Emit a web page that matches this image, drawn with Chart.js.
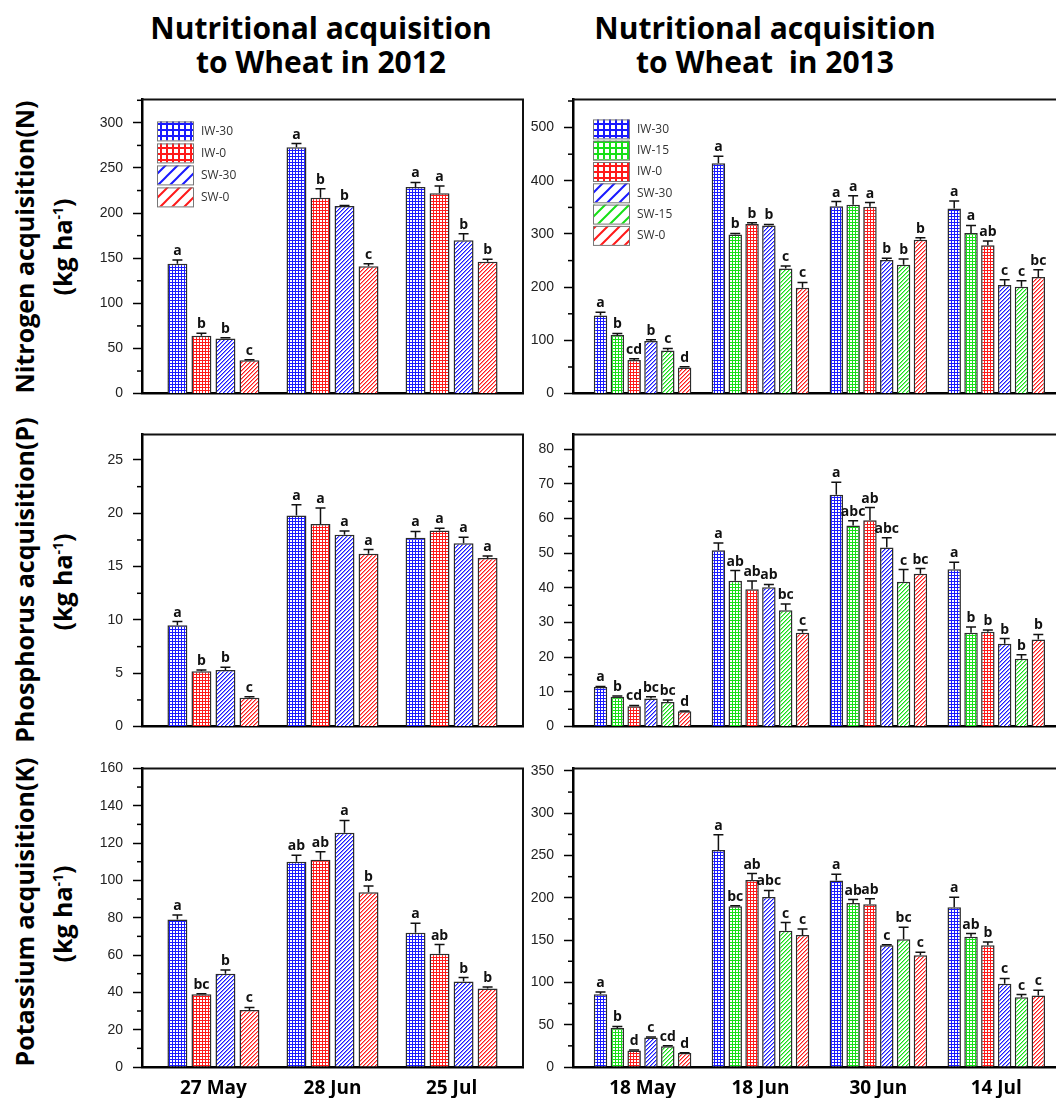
<!DOCTYPE html>
<html>
<head>
<meta charset="utf-8">
<script src="https://cdn.jsdelivr.net/npm/chart.js@4.4.1/dist/chart.umd.min.js"></script>
<style>
html, body { margin: 0; padding: 0; width: 1056px; height: 1098px; overflow: hidden; background: #fff; }
canvas { position: absolute; }
.title { position: absolute; transform: translateX(-50%); text-align: center; font: bold 30px "Open Sans"; line-height: 34px; color: #000; white-space: nowrap; }
.ytitle { position: absolute; transform: translate(-50%, -50%) rotate(-90deg); font: bold 25px "Open Sans"; color: #000; white-space: nowrap; }
.ytitle sup { font-size: 14px; }
</style>
</head>
<body>
<div class="title" style="left:321px;top:11px">Nutritional acquisition<br>to Wheat in 2012</div>
<div class="title" style="left:765px;top:11px">Nutritional acquisition<br>to Wheat&nbsp; in 2013</div>

<div class="ytitle" style="left:24px;top:247px">Nitrogen acquisition(N)</div>
<div class="ytitle" style="left:62px;top:247px">(kg ha<sup>-1</sup>)</div>
<div class="ytitle" style="left:24px;top:580px">Phosphorus acquisition(P)</div>
<div class="ytitle" style="left:62px;top:582px">(kg ha<sup>-1</sup>)</div>
<div class="ytitle" style="left:24px;top:912px">Potassium acquisition(K)</div>
<div class="ytitle" style="left:62px;top:914px">(kg ha<sup>-1</sup>)</div>

<canvas id="n2012" width="447" height="331" style="left:82px;top:81px"></canvas>
<canvas id="n2013" width="560" height="331" style="left:513px;top:81px"></canvas>
<canvas id="p2012" width="447" height="329" style="left:82px;top:416px"></canvas>
<canvas id="p2013" width="560" height="329" style="left:513px;top:416px"></canvas>
<canvas id="k2012" width="447" height="357" style="left:82px;top:750px"></canvas>
<canvas id="k2013" width="560" height="357" style="left:513px;top:750px"></canvas>

<script>
// sampling dates and treatments
const dates2012 = ['27 May', '28 Jun', '25 Jul'];
const dates2013 = ['18 May', '18 Jun', '30 Jun', '14 Jul'];
const treat2012 = ['IW-30', 'IW-0', 'SW-30', 'SW-0'];
const treat2013 = ['IW-30', 'IW-15', 'IW-0', 'SW-30', 'SW-15', 'SW-0'];

// rows = treatment, columns = date
const n2012 = [[144, 273, 229], [64, 217, 222], [61, 208, 170], [37, 141, 146]];
const n2012Err = [[4, 4, 5], [3, 10, 8], [1, 0.5, 7], [0.5, 3, 3]];
const n2012Sig = [['a', 'a', 'a'], ['b', 'b', 'a'], ['b', 'b', 'b'], ['c', 'c', 'b']];

const n2013 = [[147, 433, 352, 348], [110, 299, 355, 302], [63, 319, 351, 279],
               [99, 316, 251, 204], [81, 235, 242, 201], [49, 199, 289, 219]];
const n2013Err = [[6, 13, 9, 14], [3, 2, 17, 14], [2.5, 2, 8, 8],
                  [2, 2, 3.5, 10], [4, 5, 11, 11], [1.5, 10, 4, 14]];
const n2013Sig = [['a', 'a', 'a', 'a'], ['b', 'b', 'a', 'a'], ['cd', 'b', 'a', 'ab'],
                  ['b', 'b', 'b', 'c'], ['c', 'c', 'b', 'c'], ['d', 'c', 'b', 'bc']];

const p2012 = [[9.5, 19.8, 17.7], [5.2, 19.0, 18.4], [5.3, 18.0, 17.2], [2.7, 16.2, 15.8]];
const p2012Err = [[0.35, 1.0, 0.6], [0.1, 1.5, 0.2], [0.27, 0.35, 0.55], [0.1, 0.4, 0.2]];
const p2012Sig = [['a', 'a', 'a'], ['b', 'a', 'a'], ['b', 'a', 'a'], ['c', 'a', 'a']];

const p2013 = [[11.4, 50.9, 66.9, 45.4], [8.6, 42.1, 58.0, 27.1], [5.9, 39.6, 59.5, 27.4],
               [8.1, 40.2, 51.7, 23.9], [7.1, 33.6, 41.8, 19.6], [4.4, 27.1, 44.1, 25.1]];
const p2013Err = [[0.2, 2.1, 3.6, 2.0], [0.2, 2.9, 1.4, 1.6], [0.2, 2.4, 3.7, 0.5],
                  [0.5, 0.8, 2.8, 1.5], [0.6, 1.8, 3.5, 1.1], [0.1, 0.8, 1.5, 1.5]];
const p2013Sig = [['a', 'a', 'a', 'a'], ['b', 'ab', 'abc', 'b'], ['cd', 'ab', 'ab', 'b'],
                  ['bc', 'ab', 'abc', 'b'], ['bc', 'bc', 'c', 'b'], ['d', 'c', 'bc', 'b']];

const k2012 = [[79, 110, 72], [39, 111, 60.7], [50, 125.5, 45.8], [30.5, 93.7, 42.1]];
const k2012Err = [[2.5, 3.5, 5], [0.3, 4.4, 4.9], [2, 6.6, 2.1], [1.4, 3.3, 0.8]];
const k2012Sig = [['a', 'ab', 'a'], ['bc', 'ab', 'ab'], ['b', 'a', 'b'], ['c', 'b', 'b']];

const k2013 = [[86, 256.5, 220.5, 189], [46, 190, 194, 154], [19.5, 221, 192.5, 144],
               [35, 201, 144, 98.5], [24.5, 161, 151, 82.6], [16.5, 156, 132, 84.5]];
const k2013Err = [[2.6, 18, 7.5, 11.6], [2, 0.7, 4, 3.8], [0.5, 7.7, 6.4, 3.9],
                  [0.5, 7.7, 0.5, 6.2], [0.5, 9.7, 14.3, 3.1], [0.3, 7, 3.8, 6.2]];
const k2013Sig = [['a', 'a', 'a', 'a'], ['b', 'bc', 'ab', 'ab'], ['d', 'ab', 'ab', 'b'],
                  ['c', 'abc', 'c', 'c'], ['cd', 'c', 'bc', 'c'], ['d', 'c', 'c', 'c']];

// colour by water level, fill style by irrigation type
function colorFor(name) {
  if (name.endsWith('-30')) return '#1a1aff';
  if (name.endsWith('-15')) return '#16e016';
  return '#ff1a1a';
}

function makePattern(name, big) {
  const c = document.createElement('canvas');
  const g = c.getContext('2d');
  const col = colorFor(name);
  if (name.startsWith('IW')) {
    const cell = big ? 6 : 3, lw = big ? 2 : 1;
    c.width = c.height = cell;
    g.fillStyle = '#fff';
    g.fillRect(0, 0, cell, cell);
    g.fillStyle = col;
    g.fillRect(0, 0, cell, lw);
    g.fillRect(0, 0, lw, cell);
  } else if (big) {
    const s = 12;
    c.width = c.height = s;
    g.fillStyle = '#fff';
    g.fillRect(0, 0, s, s);
    g.strokeStyle = col;
    g.lineWidth = 2;
    g.beginPath();
    g.moveTo(-1, 1); g.lineTo(1, -1);
    g.moveTo(0, s); g.lineTo(s, 0);
    g.moveTo(s - 1, s + 1); g.lineTo(s + 1, s - 1);
    g.stroke();
  } else {
    // crisp pixel staircase "/" hatch
    const s = 4;
    c.width = c.height = s;
    g.fillStyle = '#fff';
    g.fillRect(0, 0, s, s);
    g.fillStyle = col;
    for (let x = 0; x < s; x++) {
      for (let y = 0; y < s; y++) {
        const k = (x + y) % s;
        if (k === 0 || k === 1) {
          g.globalAlpha = k === 0 ? 1 : 0.5;
          g.fillRect(x, y, 1, 1);
        }
      }
    }
    g.globalAlpha = 1;
  }
  return g.createPattern(c, 'repeat');
}

function makePanel(id, p) {
  const isMajor = v => Math.abs(v / p.major - Math.round(v / p.major)) < 1e-6;

  const datasets = p.treat.map((name, k) => ({
    label: name,
    data: p.dates.map((d, j) => ({ x: j + 1, y: p.values[k][j] })),
    errors: p.errors[k],
    letters: p.letters[k],
    backgroundColor: makePattern(name, false),
    borderColor: '#2b2b2b',
    borderWidth: 1.5,
    categoryPercentage: p.catPct,
    barPercentage: p.barPct
  }));

  const extras = {
    id: 'extras',
    afterDatasetsDraw(chart) {
      const ctx = chart.ctx;
      const yS = chart.scales.y;
      ctx.save();
      chart.data.datasets.forEach((ds, i) => {
        chart.getDatasetMeta(i).data.forEach((bar, j) => {
          const top = yS.getPixelForValue(ds.data[j].y + ds.errors[j]);
          ctx.strokeStyle = '#111';
          ctx.lineWidth = 1.5;
          ctx.beginPath();
          ctx.moveTo(bar.x, bar.y);
          ctx.lineTo(bar.x, top);
          ctx.moveTo(bar.x - 5, top);
          ctx.lineTo(bar.x + 5, top);
          ctx.stroke();
          ctx.fillStyle = '#111';
          ctx.font = 'bold 14px "Open Sans"';
          ctx.textAlign = 'center';
          ctx.textBaseline = 'alphabetic';
          ctx.fillText(ds.letters[j], bar.x, top - 5);
        });
      });
      ctx.restore();
    },
    afterDraw(chart) {
      const ctx = chart.ctx;
      const a = chart.chartArea;
      const yS = chart.scales.y;
      ctx.save();
      // frame
      ctx.strokeStyle = '#111';
      ctx.lineWidth = 2;
      ctx.beginPath();
      ctx.moveTo(a.left, a.top);
      ctx.lineTo(a.right, a.top);
      ctx.lineTo(a.right, a.bottom);
      ctx.stroke();
      // minor ticks
      ctx.lineWidth = 1.5;
      ctx.strokeStyle = '#000';
      yS.ticks.forEach(t => {
        if (isMajor(t.value)) return;
        const y = yS.getPixelForValue(t.value);
        ctx.beginPath();
        ctx.moveTo(a.left - 5, y);
        ctx.lineTo(a.left, y);
        ctx.stroke();
      });
      // legend
      if (p.legend) {
        const lg = p.legend;
        p.treat.forEach((name, k) => {
          const x = a.left + lg.dx, y = a.top + lg.dy + k * lg.pitch;
          ctx.fillStyle = makePattern(name, true);
          ctx.fillRect(x, y, 36, 19);
          ctx.strokeStyle = '#777';
          ctx.lineWidth = 1;
          ctx.strokeRect(x + 0.5, y + 0.5, 36, 19);
          ctx.fillStyle = '#333';
          ctx.font = '12px "Open Sans"';
          ctx.textAlign = 'left';
          ctx.textBaseline = 'middle';
          ctx.fillText(name, x + 44, y + 10);
        });
      }
      ctx.restore();
    }
  };

  return new Chart(document.getElementById(id), {
    type: 'bar',
    data: { datasets: datasets },
    options: {
      responsive: false,
      animation: false,
      devicePixelRatio: 1,
      layout: { padding: { top: 12, right: 6, left: 0, bottom: 0 } },
      plugins: { legend: { display: false }, tooltip: { enabled: false } },
      scales: {
        x: {
          type: 'linear',
          offset: false,
          min: p.xMin,
          max: p.xMax,
          afterFit: s => { s.height = p.showX ? 40 : 12; },
          afterBuildTicks: s => { s.ticks = p.dates.map((d, i) => ({ value: i + 1 })); },
          grid: { display: false, drawTicks: false, offset: false },
          border: { color: '#000', width: 2.5 },
          ticks: {
            display: p.showX,
            autoSkip: false,
            maxRotation: 0,
            padding: 10,
            color: '#000',
            font: { family: 'Open Sans', size: 19, weight: 'bold' },
            callback: (v, i) => p.dates[i]
          }
        },
        y: {
          min: 0,
          max: p.yMax,
          afterFit: s => { s.width = 60; },
          border: { color: '#000', width: 2.5 },
          grid: {
            drawOnChartArea: false,
            tickLength: 9,
            tickWidth: 1.5,
            tickColor: c => (c.tick && isMajor(c.tick.value)) ? '#000' : 'rgba(0,0,0,0)'
          },
          ticks: {
            stepSize: p.minor,
            autoSkip: false,
            includeBounds: false,
            padding: 10,
            color: '#222',
            font: { family: 'Liberation Sans', size: 14 },
            callback: v => isMajor(v) ? v : ''
          }
        }
      }
    },
    plugins: [extras]
  });
}

const left = { dates: dates2012, treat: treat2012, xMin: 0.4, xMax: 3.6, catPct: 0.807, barPct: 0.83 };
const right = { dates: dates2013, treat: treat2013, xMin: 0.41, xMax: 4.6, catPct: 0.856, barPct: 0.8 };

makePanel('n2012', Object.assign({}, left, {
  values: n2012, errors: n2012Err, letters: n2012Sig,
  yMax: 326, major: 50, minor: 25, showX: false,
  legend: { dx: 15, dy: 22, pitch: 22 }
}));
makePanel('n2013', Object.assign({}, right, {
  values: n2013, errors: n2013Err, letters: n2013Sig,
  yMax: 553, major: 100, minor: 50, showX: false,
  legend: { dx: 20, dy: 20, pitch: 21.3 }
}));
makePanel('p2012', Object.assign({}, left, {
  values: p2012, errors: p2012Err, letters: p2012Sig,
  yMax: 27.4, major: 5, minor: 2.5, showX: false
}));
makePanel('p2013', Object.assign({}, right, {
  values: p2013, errors: p2013Err, letters: p2013Sig,
  yMax: 84.3, major: 10, minor: 5, showX: false
}));
makePanel('k2012', Object.assign({}, left, {
  values: k2012, errors: k2012Err, letters: k2012Sig,
  yMax: 160, major: 20, minor: 10, showX: true
}));
makePanel('k2013', Object.assign({}, right, {
  values: k2013, errors: k2013Err, letters: k2013Sig,
  yMax: 353, major: 50, minor: 25, showX: true
}));
</script>
</body>
</html>
